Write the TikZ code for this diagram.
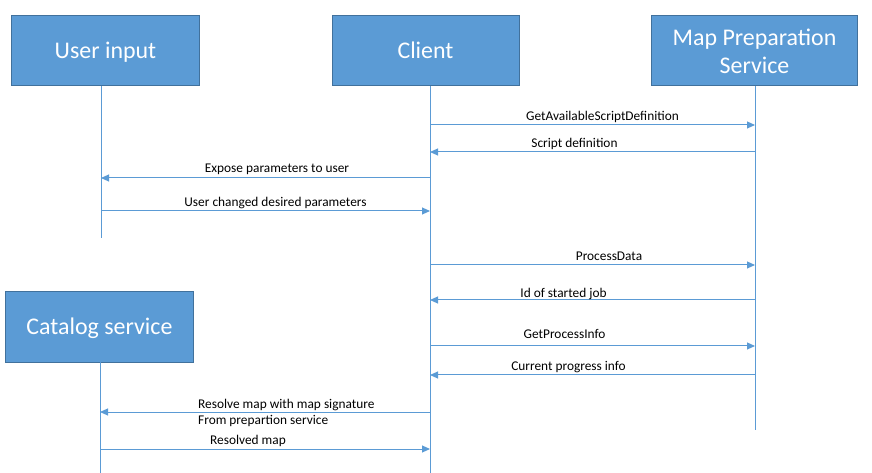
\documentclass[tikz,border=0pt]{standalone}
\usepackage{fontspec}
\setmainfont{Carlito}
\usetikzlibrary{arrows.meta}
\definecolor{boxfill}{HTML}{5B9BD5}
\definecolor{boxline}{HTML}{41719C}
\definecolor{lineblue}{HTML}{5B9BD5}
\begin{document}
\begin{tikzpicture}[x=1bp,y=-1bp,
  actor/.style={draw=boxline, fill=boxfill, line width=1bp, text=white,
    font=\fontsize{24}{28}\selectfont, align=center, inner sep=0,
    minimum width=187bp, minimum height=70bp},
  oneline/.style={text height=15.5bp, text depth=0bp},
  life/.style={draw=lineblue, line width=1bp},
  msg/.style={draw=lineblue, line width=1bp, -{Triangle[length=8bp,width=7bp]}},
  lbl/.style={font=\fontsize{13.4}{16}\selectfont, inner sep=0, anchor=base}]
\useasboundingbox (0,0) rectangle (872,473);
% actors
\node[actor, oneline] (user) at (105.5,51) {User input};
\node[actor, oneline] (client) at (425.5,51) {Client};
\node[actor, minimum width=206bp] (map) at (754.5,51) {Map Preparation\\Service};
\node[actor, oneline] (cat) at (99.5,327) {Catalog service};
% lifeline ends
\coordinate (u0) at (101,86);  \coordinate (u9) at (101,238);
\coordinate (c0) at (430,86);  \coordinate (c9) at (430,473);
\coordinate (m0) at (755,86);  \coordinate (m9) at (755,430);
\coordinate (k0) at (100,362); \coordinate (k9) at (100,473);
\draw[life] (u0) -- (u9);
\draw[life] (c0) -- (c9);
\draw[life] (m0) -- (m9);
\draw[life] (k0) -- (k9);
% message points
\coordinate (c1) at (430,125); \coordinate (m1) at (755,125);
\coordinate (c2) at (430,152); \coordinate (m2) at (755,152);
\coordinate (c3) at (430,178); \coordinate (u3) at (101,178);
\coordinate (c4) at (430,211); \coordinate (u4) at (101,211);
\coordinate (c5) at (430,265); \coordinate (m5) at (755,265);
\coordinate (c6) at (430,300); \coordinate (m6) at (755,300);
\coordinate (c7) at (430,346); \coordinate (m7) at (755,346);
\coordinate (c8) at (430,375); \coordinate (m8) at (755,375);
\coordinate (c10) at (430,412); \coordinate (k10) at (100,412);
\coordinate (c11) at (430,449); \coordinate (k11) at (100,449);
\draw[msg] (c1) -- (m1);
\draw[msg] (m2) -- (c2);
\draw[msg] (c3) -- (u3);
\draw[msg] (u4) -- (c4);
\draw[msg] (c5) -- (m5);
\draw[msg] (m6) -- (c6);
\draw[msg] (c7) -- (m7);
\draw[msg] (m8) -- (c8);
\draw[msg] (c10) -- (k10);
\draw[msg] (k11) -- (c11);
% labels
\node[lbl] (l1) at (602.5,121) {GetAvailableScriptDefinition};
\node[lbl] (l2) at (574.5,148) {Script definition};
\node[lbl] (l3) at (277,173) {Expose parameters to user};
\node[lbl] (l4) at (275.5,207) {User changed desired parameters};
\node[lbl] (l5) at (609,261) {ProcessData};
\node[lbl] (l6) at (563.5,298) {Id of started job};
\node[lbl] (l7) at (564.5,339) {GetProcessInfo};
\node[lbl] (l8) at (568.5,371) {Current progress info};
\node[lbl, anchor=base west] (l9) at (198,408) {Resolve map with map signature};
\node[lbl, anchor=base west] (l10) at (198,424) {From prepartion service};
\node[lbl] (l11) at (248,444) {Resolved map};
\end{tikzpicture}
\end{document}
